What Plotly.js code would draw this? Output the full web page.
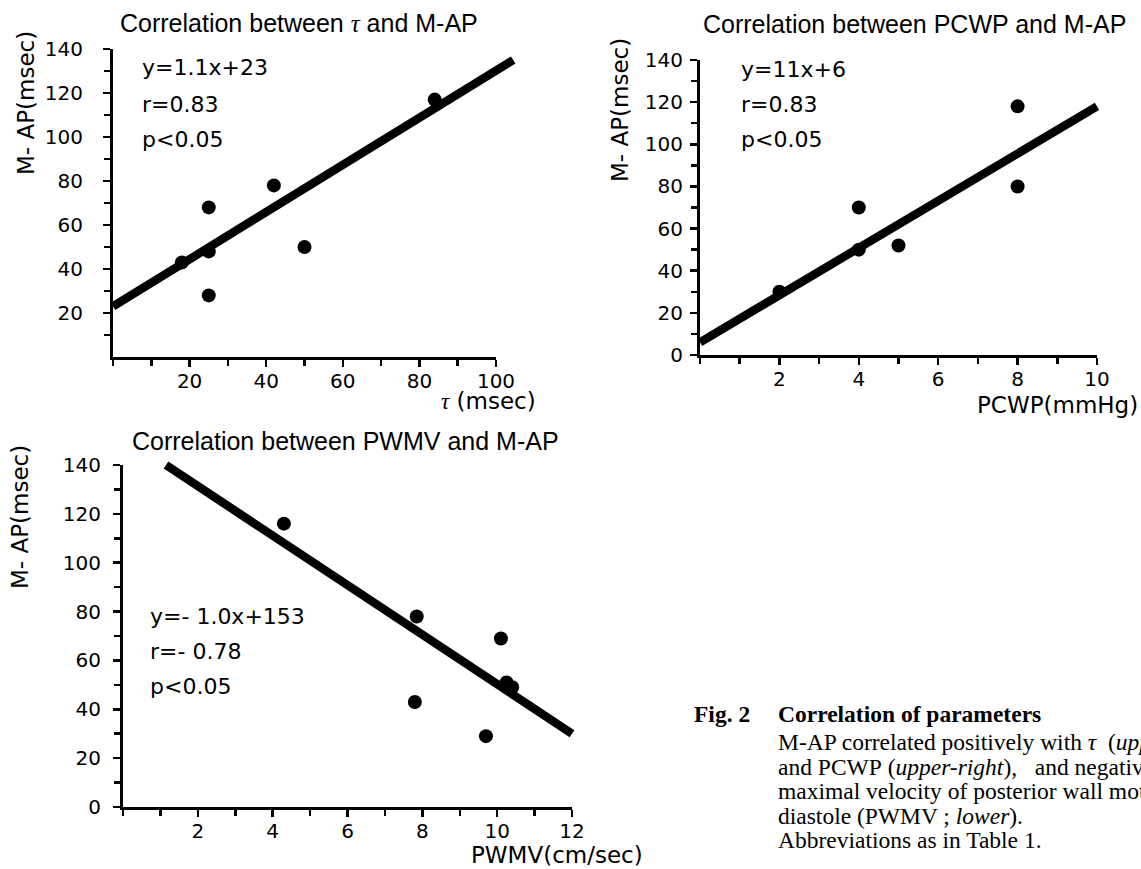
<!DOCTYPE html>
<html>
<head>
<meta charset="utf-8">
<script src="https://cdn.plot.ly/plotly-3.0.1.min.js"></script>
<style>
html,body{margin:0;padding:0;background:#fff;}
#chart{width:1141px;height:869px;}
</style>
</head>
<body>
<div id="chart"></div>
<script>
// ---------------- data ----------------
// Panel 1: tau vs M-AP
const tauX = [18, 25, 25, 25, 42, 50, 84];
const tauY = [43, 68, 48, 28, 78, 50, 117];
const tauFitX = [0, 104.5];
const tauFitY = [23, 135];
const tauStats = ["y=1.1x+23", "r=0.83", "p<0.05"];
const tauXTicks = [20, 40, 60, 80, 100];
const tauYTicks = [20, 40, 60, 80, 100, 120, 140];

// Panel 2: PCWP vs M-AP
const pcwpX = [2, 4, 4, 5, 8, 8];
const pcwpY = [30, 70, 50, 52, 118, 80];
const pcwpFitX = [0, 10];
const pcwpFitY = [6, 118];
const pcwpStats = ["y=11x+6", "r=0.83", "p<0.05"];
const pcwpXTicks = [2, 4, 6, 8, 10];
const pcwpYTicks = [0, 20, 40, 60, 80, 100, 120, 140];

// Panel 3: PWMV vs M-AP
const pwmvX = [4.3, 7.85, 7.8, 10.1, 10.25, 10.4, 9.7];
const pwmvY = [116, 78, 43, 69, 51, 49, 29];
const pwmvFitX = [1.15, 12];
const pwmvFitY = [140, 30];
const pwmvStats = ["y=- 1.0x+153", "r=- 0.78", "p<0.05"];
const pwmvXTicks = [2, 4, 6, 8, 10, 12];
const pwmvYTicks = [0, 20, 40, 60, 80, 100, 120, 140];

const captionHead = ["Fig. 2", "Correlation of parameters"];
const captionLines = [
  "M-AP correlated positively with <i>τ</i>\u00a0\u00a0(<i>upper-left</i>)",
  "and PCWP\u00a0(<i>upper-right</i>),\u00a0\u00a0 and negatively with peak",
  "maximal velocity of posterior wall motion in early",
  "diastole\u00a0(PWMV ; <i>lower</i>).",
  "Abbreviations as in Table 1."
];

// ---------------- layout helpers ----------------
const W = 1141, H = 869;
const px = x => x / W;
const py = y => 1 - y / H;
const TAU = '<span style="font-family:\'Liberation Serif\',serif;font-style:italic">τ</span>';
const SANS = '"DejaVu Sans", Verdana, sans-serif';
const TITLEF = '"Liberation Sans", Arial, sans-serif';
const SERIF = '"Liberation Serif", "Times New Roman", serif';

// panel pixel geometry
const panels = [
  {x0:113, x1:496, yTop:49, yBot:357, xr:[0,100], yr:[0,140], ystand:16},
  {x0:700, x1:1097, yTop:60, yBot:355, xr:[0,10], yr:[0,140], ystand:3},
  {x0:123, x1:572, yTop:465, yBot:807, xr:[0,12], yr:[0,140], ystand:8}
];

function mainX(p, ticks, minor){
  return {
    domain:[px(p.x0), px(p.x1)], range:p.xr, showline:true, linewidth:3, linecolor:'#000',
    ticks:'outside', ticklen:7, tickwidth:2.5, tickcolor:'#000',
    tickmode:'array', tickvals:ticks, ticktext:ticks.map(String), ticklabelstandoff:-3,
    minor:{tickmode:'array', tickvals:minor, ticks:'outside', ticklen:6, tickwidth:2.5, tickcolor:'#000', showgrid:false},
    showgrid:false, zeroline:false, fixedrange:true,
    tickfont:{family:SANS, size:20, color:'#000'}
  };
}
function mainY(p, ticks, minor){
  return {
    domain:[py(p.yBot), py(p.yTop)], range:p.yr, showline:true, linewidth:3, linecolor:'#000',
    ticks:'outside', ticklen:7, tickwidth:2.5, tickcolor:'#000',
    tickmode:'array', tickvals:ticks, ticktext:ticks.map(String), ticklabelstandoff:p.ystand,
    minor:{tickmode:'array', tickvals:minor, ticks:'outside', ticklen:6, tickwidth:2.5, tickcolor:'#000', showgrid:false},
    showgrid:false, zeroline:false, fixedrange:true,
    tickfont:{family:SANS, size:20, color:'#000'}
  };
}
// invisible overlay axes (same scale, padded) so thick fit lines are not clipped
const PAD = 25;
function overX(p, anchor){
  const u = (p.xr[1]-p.xr[0])/(p.x1-p.x0);
  return {domain:[px(p.x0-PAD), px(p.x1+PAD)], range:[p.xr[0]-PAD*u, p.xr[1]+PAD*u], visible:false, anchor:anchor, fixedrange:true};
}
function overY(p, anchor){
  const u = (p.yr[1]-p.yr[0])/(p.yBot-p.yTop);
  return {domain:[py(p.yBot+PAD), py(p.yTop-PAD)], range:[p.yr[0]-PAD*u, p.yr[1]+PAD*u], visible:false, anchor:anchor, fixedrange:true};
}

const markerStyle = {color:'#000', size:14};
const lineStyle = {color:'#000', width:8.5};

const traces = [
  {x:tauFitX, y:tauFitY, xaxis:'x4', yaxis:'y4', mode:'lines', line:lineStyle, hoverinfo:'skip'},
  {x:tauX, y:tauY, xaxis:'x', yaxis:'y', mode:'markers', marker:markerStyle, cliponaxis:false},
  {x:pcwpFitX, y:pcwpFitY, xaxis:'x5', yaxis:'y5', mode:'lines', line:lineStyle, hoverinfo:'skip'},
  {x:pcwpX, y:pcwpY, xaxis:'x2', yaxis:'y2', mode:'markers', marker:markerStyle, cliponaxis:false},
  {x:pwmvFitX, y:pwmvFitY, xaxis:'x6', yaxis:'y6', mode:'lines', line:lineStyle, hoverinfo:'skip'},
  {x:pwmvX, y:pwmvY, xaxis:'x3', yaxis:'y3', mode:'markers', marker:markerStyle, cliponaxis:false}
];

const ann = [];
function addText(text, x, y, opts){
  ann.push(Object.assign({xref:'paper', yref:'paper', x:px(x), y:py(y), text:text, showarrow:false,
    xanchor:'left', yanchor:'middle', font:{family:SANS, size:22, color:'#000'}}, opts||{}));
}
const titleFont = {family:TITLEF, size:25, color:'#000'};
// panel titles
addText('Correlation between ' + TAU + ' and M-AP', 299, 23, {xanchor:'center', font:titleFont});
addText('Correlation between PCWP and M-AP', 914, 24, {xanchor:'center', font:titleFont});
addText('Correlation between PWMV and M-AP', 345, 441, {xanchor:'center', font:titleFont});
// y axis titles
const axFont = {family:SANS, size:23, color:'#000'};
addText('M- AP(msec)', 26, 103, {xanchor:'center', textangle:-90, font:axFont});
addText('M- AP(msec)', 620, 110, {xanchor:'center', textangle:-90, font:axFont});
addText('M- AP(msec)', 20, 517, {xanchor:'center', textangle:-90, font:axFont});
// x axis titles
addText(TAU + ' (msec)', 538, 401, {xanchor:'right', font:axFont});
addText('PCWP(mmHg)', 1140, 405, {xanchor:'right', font:axFont});
addText('PWMV(cm/sec)', 645, 855, {xanchor:'right', font:axFont});
// stats
const statFont = {family:SANS, size:22, color:'#000'};
const statY1 = [68, 104, 139], statY2 = [69, 104, 139], statY3 = [616, 651, 686];
tauStats.forEach((s,i)=>addText(s.replace('<','&lt;'), 140, statY1[i], {font:statFont}));
pcwpStats.forEach((s,i)=>addText(s.replace('<','&lt;'), 739, statY2[i], {font:statFont}));
pwmvStats.forEach((s,i)=>addText(s.replace('<','&lt;'), 148, statY3[i], {font:statFont}));
// caption
const capFont = {family:SERIF, size:23.5, color:'#000'};
addText('<b>' + captionHead[0] + '</b>', 692, 714, {font:capFont});
addText('<b>' + captionHead[1] + '</b>', 776, 714, {font:capFont});
const capY = [742, 766.5, 791, 815.5, 840];
captionLines.forEach((s,i)=>addText(s, 776, capY[i], {font:capFont}));

const layout = {
  width:W, height:H, margin:{l:0, r:0, t:0, b:0}, showlegend:false,
  paper_bgcolor:'#fff', plot_bgcolor:'rgba(0,0,0,0)',
  xaxis: Object.assign(mainX(panels[0], tauXTicks, [0,10,30,50,70,90]), {anchor:'y'}),
  yaxis: Object.assign(mainY(panels[0], tauYTicks, [10,30,50,70,90,110,130]), {anchor:'x'}),
  xaxis2: Object.assign(mainX(panels[1], pcwpXTicks, [0,1,3,5,7,9]), {anchor:'y2'}),
  yaxis2: Object.assign(mainY(panels[1], pcwpYTicks, [10,30,50,70,90,110,130]), {anchor:'x2'}),
  xaxis3: Object.assign(mainX(panels[2], pwmvXTicks, [0,1,3,5,7,9,11]), {anchor:'y3'}),
  yaxis3: Object.assign(mainY(panels[2], pwmvYTicks, [10,30,50,70,90,110,130]), {anchor:'x3'}),
  xaxis4: overX(panels[0], 'y4'), yaxis4: overY(panels[0], 'x4'),
  xaxis5: overX(panels[1], 'y5'), yaxis5: overY(panels[1], 'x5'),
  xaxis6: overX(panels[2], 'y6'), yaxis6: overY(panels[2], 'x6'),
  annotations: ann
};

Plotly.newPlot('chart', traces, layout, {staticPlot:true, displayModeBar:false});
</script>
</body>
</html>
